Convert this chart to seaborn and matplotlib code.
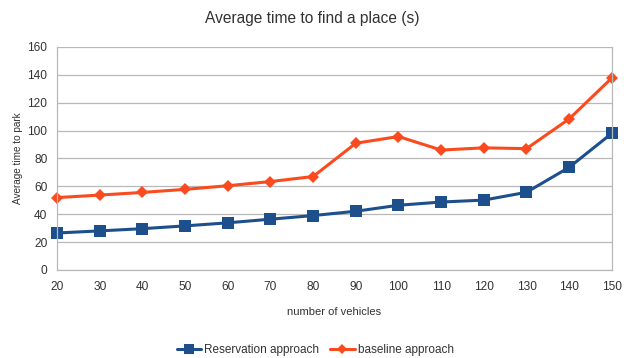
import matplotlib
matplotlib.use("Agg")
import matplotlib.pyplot as plt
import seaborn as sns
import pandas as pd

vehicles = [20, 30, 40, 50, 60, 70, 80, 90, 100, 110, 120, 130, 140, 150]
reservation = [26.5, 28, 29.6, 31.6, 33.8, 36.4, 39, 42.1, 46.4, 48.7, 50.1, 55.7, 73.6, 98]
baseline = [51.9, 53.7, 55.6, 57.8, 60.4, 63.4, 67, 90.9, 95.7, 86, 87.6, 87, 108.3, 137.7]

series_names = ["Reservation approach", "baseline approach"]
colors = ["#1d4f8c", "#fb4a1e"]
markers = ["s", "D"]

sns.set_theme(style="white")
plt.rcParams["font.family"] = ["Liberation Sans", "DejaVu Sans"]

df = pd.DataFrame({
    "vehicles": vehicles * 2,
    "time": reservation + baseline,
    "series": [series_names[0]] * len(vehicles) + [series_names[1]] * len(vehicles),
})

fig = plt.figure(figsize=(6.24, 3.58), dpi=100)
ax = fig.add_axes([0.0915, 0.246, 0.889, 0.623])

sns.lineplot(data=df, x="vehicles", y="time", hue="series", style="series",
             palette=colors, markers=markers, dashes=False, markersize=7,
             linewidth=2.2, markeredgewidth=0, ax=ax, legend=False)
# diamonds a bit smaller than the squares; let edge markers overhang the frame
for line, ms in zip(ax.lines, [8, 6.5]):
    line.set_markersize(ms)
    line.set_clip_on(False)

ax.set_xlim(20, 150)
ax.set_ylim(0, 160)
ax.set_xticks(vehicles)
ax.set_yticks(range(0, 161, 20))
ax.yaxis.grid(True, color="#b8b8b8", linewidth=0.9)
ax.set_axisbelow(True)
for s in ax.spines.values():
    s.set_color("#b8b8b8")
    s.set_linewidth(0.9)
ax.spines["top"].set_visible(False)
ax.tick_params(axis="both", labelsize=8.6, colors="#b8b8b8", labelcolor="#333333",
               width=0.9, direction="out")
ax.tick_params(axis="y", length=6.5, pad=0.5)
ax.tick_params(axis="x", length=4, pad=4)

ax.set_xlabel("number of vehicles", fontsize=8, color="#333333", labelpad=10)
ax.set_ylabel("Average time to park", fontsize=7.2, color="#333333", labelpad=3)
fig.suptitle("Average time to find a place (s)", fontsize=11.2, color="#333333", y=0.968)

handles = [plt.Line2D([0], [0], color=c, marker=m, linewidth=2.2,
                      markersize=ms, markeredgewidth=0)
           for c, m, ms in zip(colors, markers, [6.5, 5.5])]
fig.legend(handles, series_names, loc="center", bbox_to_anchor=(0.505, 0.022),
           ncol=2, frameon=False, fontsize=8.5, handlelength=2.1,
           columnspacing=0.9, handletextpad=0.25, labelcolor="#333333")

fig.savefig("out.png", dpi=100)
